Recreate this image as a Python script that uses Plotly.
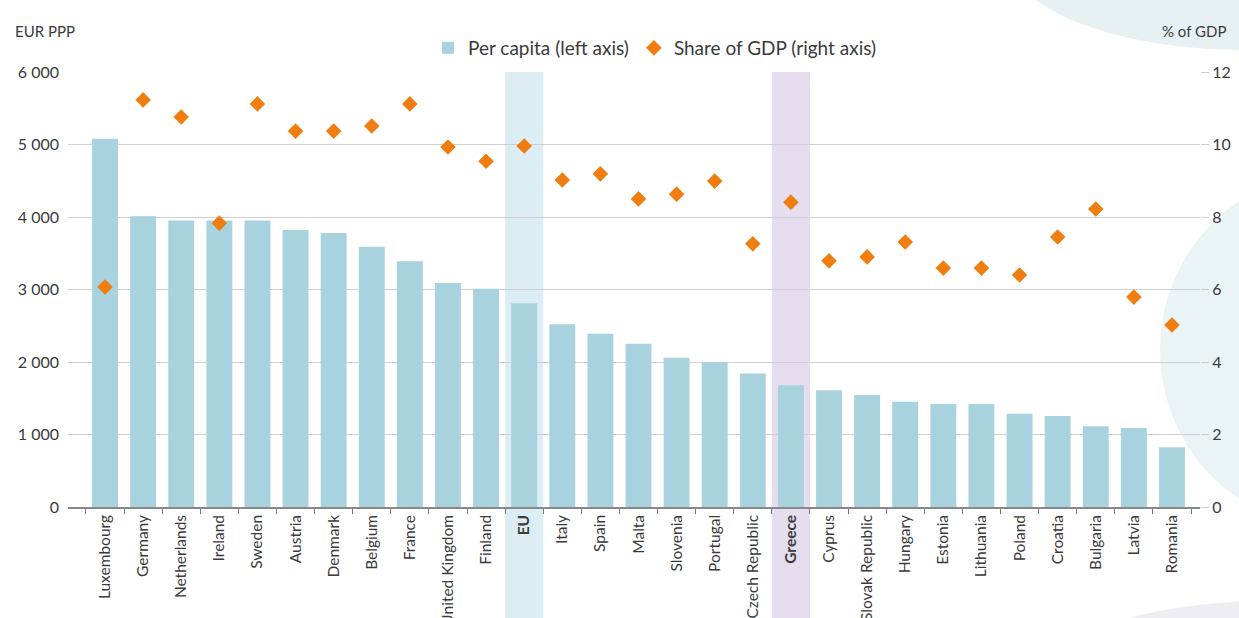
import plotly.graph_objects as go

countries = ["Luxembourg", "Germany", "Netherlands", "Ireland", "Sweden", "Austria", "Denmark",
             "Belgium", "France", "United Kingdom", "Finland", "EU", "Italy", "Spain", "Malta",
             "Slovenia", "Portugal", "Czech Republic", "Greece", "Cyprus", "Slovak Republic",
             "Hungary", "Estonia", "Lithuania", "Poland", "Croatia", "Bulgaria", "Latvia", "Romania"]
per_capita = [5080, 4010, 3950, 3950, 3950, 3820, 3780, 3590, 3390, 3090, 3010, 2810, 2520,
              2390, 2250, 2060, 2000, 1840, 1680, 1610, 1545, 1450, 1420, 1420, 1285, 1255,
              1115, 1090, 825]
share_gdp = [6.07, 11.23, 10.76, 7.83, 11.12, 10.37, 10.37, 10.51, 11.12, 9.93, 9.54, 9.96, 9.02,
             9.19, 8.50, 8.63, 8.99, 7.26, 8.41, 6.79, 6.90, 7.31, 6.59, 6.59, 6.40, 7.45, 8.22,
             5.79, 5.02]
highlight = {"EU": "#dcedf3", "Greece": "#e6ddef"}

FONT = "Lato, Open Sans, sans-serif"
TXT = "#3a3a3a"

ticktext = [f"<b>{c}</b>" if c in highlight else c for c in countries]

fig = go.Figure()
fig.add_trace(go.Bar(x=countries, y=per_capita, name="Per capita (left axis)",
                     marker=dict(color="#a7d2de", line=dict(width=0)), width=0.68, yaxis="y"))
fig.add_trace(go.Scatter(x=countries, y=share_gdp, name="Share of GDP (right axis)",
                         mode="markers", marker=dict(symbol="diamond", size=12, color="#ef7d0f"),
                         yaxis="y2"))

L, R, T, B = 68, 1200, 72, 507
W, H = R - L, B - T
def px(xp): return (xp - L) / W
def py(yp): return (B - yp) / H

shapes = [
    dict(type="circle", xref="paper", yref="paper", x0=px(1160), x1=px(1520), y0=py(530), y1=py(170),
         fillcolor="#eaf3f6", line=dict(width=0), layer="below"),
    dict(type="circle", xref="paper", yref="paper", x0=px(1010), x1=px(1480), y0=py(50), y1=py(-134),
         fillcolor="#e7f1f4", line=dict(width=0), layer="below"),
    dict(type="circle", xref="paper", yref="paper", x0=px(1080), x1=px(1500), y0=py(700), y1=py(600),
         fillcolor="#efedf4", line=dict(width=0), layer="below"),
]
for c, col in highlight.items():
    i = countries.index(c)
    shapes.append(dict(type="rect", xref="x", yref="paper", x0=i - 0.5, x1=i + 0.5,
                       y0=py(640), y1=1.0, fillcolor=col, line=dict(width=0), layer="below"))

pad_l = 18 / 38.17
pad_r = 9 / 38.17
fig.update_layout(
    width=1239, height=618,
    margin=dict(l=L, r=1239 - R, t=T, b=618 - B, autoexpand=False),
    paper_bgcolor="white", plot_bgcolor="rgba(0,0,0,0)",
    font=dict(family=FONT, size=15, color=TXT),
    separators=". ",
    bargap=0.32,
    shapes=shapes,
    showlegend=True,
    legend=dict(orientation="h", x=px(655), xanchor="center", y=py(48), yanchor="middle",
                font=dict(size=19, color=TXT), bgcolor="rgba(0,0,0,0)", itemsizing="constant"),
    xaxis=dict(type="category", range=[-0.5 - pad_l, len(countries) - 0.5 + pad_r],
               tickmode="array", tickvals=countries, ticktext=ticktext, tickangle=-90,
               tickson="boundaries", ticks="outside", ticklen=5, tickcolor="#777",
               showline=True, linecolor="#888", linewidth=1.5, showgrid=False,
               tickfont=dict(size=15.5, color=TXT)),
    yaxis=dict(range=[0, 6000], dtick=1000, tickformat=",d", showgrid=True, gridcolor="#cfcfcf",
               gridwidth=1, zeroline=False, ticks="", tickfont=dict(size=16, color=TXT),
               ticklabelstandoff=8),
    yaxis2=dict(range=[0, 12], dtick=2, overlaying="y", side="right", showgrid=False,
                zeroline=False, tickfont=dict(size=16, color=TXT), ticks="outside",
                ticklen=8, tickcolor="#cfcfcf"),
    annotations=[
        dict(text="EUR PPP", xref="paper", yref="paper", x=px(13), y=py(31), xanchor="left",
             yanchor="middle", showarrow=False, font=dict(size=15, color=TXT)),
        dict(text="% of GDP", xref="paper", yref="paper", x=px(1228), y=py(31), xanchor="right",
             yanchor="middle", showarrow=False, font=dict(size=15, color=TXT)),
    ],
)
fig.write_html("out.html")
